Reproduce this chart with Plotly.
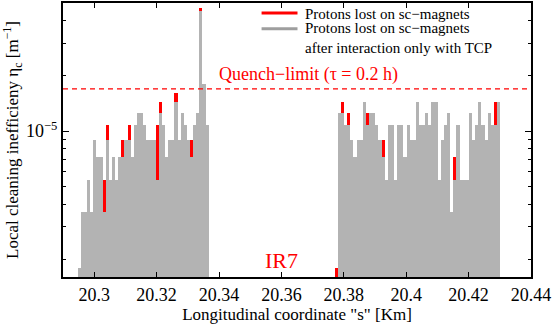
import numpy as np
import plotly.graph_objects as go

# ---------------- data ----------------
BIN_W = 0.001  # km, histogram bin width
# Left cluster (IR7 upstream), bin left edges start
left_start = 20.2947
gray_left = [1, 2, 2, 3, 2, 5, 4, 4, 2, 5, 3, 4, 3, 4, 4, 5, 5, 4, 6, 7, 7,
             6, 5, 5, 5, 3, 7, 6, 4, 5, 5, 8, 5, 7, 6, 5, 4, 6, 7, 25, 10, 6]
red_left = [1, 2, 2, 3, 2, 5, 4, 4, 3, 6, 3, 4, 3, 4, 5, 5, 6, 4, 6, 7, 7,
            6, 5, 5, 5, 6, 8, 6, 4, 5, 5, 9, 5, 7, 6, 5, 5, 6, 7, 26, 10, 6]
# Right cluster (IR7 downstream)
right_start = 20.3771
gray_right = [0, 7, 7, 6, 6, 5, 4, 5, 5, 8, 6, 7, 7, 6, 5, 4, 3, 6, 6, 3, 6,
              6, 4, 6, 5, 5, 8, 6, 6, 7, 6, 8, 8, 3, 5, 6, 7, 2, 3, 6, 3,
              3, 3, 7, 5, 6, 8, 6, 5, 7, 6, 6, 8]
red_right = [1, 7, 8, 6, 7, 5, 4, 5, 5, 8, 7, 7, 7, 6, 5, 5, 3, 6, 6, 3, 6,
             6, 4, 6, 5, 5, 8, 6, 6, 7, 6, 8, 8, 3, 5, 6, 7, 2, 4, 6, 3,
             3, 3, 7, 5, 6, 8, 6, 5, 7, 6, 8, 8]
ETA_UNIT = 1.8e-6  # inefficiency per lost-proton count
quench_limit = 1.7e-5

x_range = [20.29, 20.44]
x_ticks = [20.3, 20.32, 20.34, 20.36, 20.38, 20.4, 20.42, 20.44]
y_range_vals = [1.6e-6, 5.0e-5]
y_major = [1e-5]
y_major_text = ["10<sup>\u22125</sup>"]
y_minor = [2e-6, 3e-6, 4e-6, 5e-6, 6e-6, 7e-6, 8e-6, 9e-6, 2e-5, 3e-5, 4e-5]

legend_names = ["Protons lost on sc\u2212magnets",
                "Protons lost on sc\u2212magnets<br>after interaction only with TCP"]

# ---------------- build ----------------
xl = [left_start + BIN_W * (i + 0.5) for i in range(len(gray_left))]
xr = [right_start + BIN_W * (i + 0.5) for i in range(len(gray_right))]
xs = xl + xr
gray = [v * ETA_UNIT if v > 0 else None for v in gray_left + gray_right]
red = [v * ETA_UNIT if v > 0 else None for v in red_left + red_right]

SERIF = "Liberation Serif, Times New Roman, serif"
RED = "#ff0000"
GRAY = "#b3b3b3"

fig = go.Figure()
fig.add_trace(go.Bar(x=xs, y=red, width=BIN_W, marker=dict(color=RED, line=dict(width=0)),
                     showlegend=False, hoverinfo="skip"))
fig.add_trace(go.Bar(x=xs, y=gray, width=BIN_W,
                     marker=dict(color=GRAY, line=dict(width=0)),
                     showlegend=False, hoverinfo="skip"))
fig.add_trace(go.Scatter(x=x_range, y=[quench_limit, quench_limit], mode="lines",
                         line=dict(color=RED, width=1.3, dash="5px,4px"),
                         showlegend=False, hoverinfo="skip"))

axis_common = dict(showline=True, linecolor="black", linewidth=2, mirror="allticks",
                   ticks="inside", tickcolor="black", showgrid=False, zeroline=False,
                   ticklabeloverflow="allow",
                   tickfont=dict(family=SERIF, size=18, color="black"))

# hand-made legend (line samples + text) in paper coordinates
PX_L, PX_T, PW, PH = 63, 1, 469, 276
def px(xp):
    return (xp - PX_L) / PW
def py(yp):
    return 1 - (yp - PX_T) / PH

shapes = [
    dict(type="line", xref="paper", yref="paper", x0=px(262), x1=px(298), y0=py(11), y1=py(11),
         line=dict(color=RED, width=3)),
    dict(type="line", xref="paper", yref="paper", x0=px(262), x1=px(298), y0=py(27), y1=py(27),
         line=dict(color="#9e9e9e", width=3)),
]
annotations = [
    dict(x=px(304), y=py(12), xref="paper", yref="paper", text=legend_names[0],
         showarrow=False, xanchor="left", yanchor="middle", align="left",
         font=dict(family=SERIF, size=15, color="black")),
    dict(x=px(304), y=py(36.5), xref="paper", yref="paper", text=legend_names[1],
         showarrow=False, xanchor="left", yanchor="middle", align="left",
         font=dict(family=SERIF, size=15, color="black")),
    dict(x=20.3395, y=py(73), xref="x", yref="paper", text="Quench\u2212limit (\u03c4 = 0.2 h)",
         showarrow=False, xanchor="left", yanchor="middle",
         font=dict(family=SERIF, size=18, color=RED)),
    dict(x=20.3599, y=py(260), xref="x", yref="paper", text="IR7",
         showarrow=False, xanchor="center", yanchor="middle",
         font=dict(family=SERIF, size=22, color=RED)),
]

fig.update_layout(
    width=552, height=326,
    margin=dict(l=63, r=20, t=1, b=49),
    paper_bgcolor="white", plot_bgcolor="white",
    barmode="overlay", bargap=0,
    showlegend=False,
    font=dict(family=SERIF, color="black"),
    xaxis=dict(range=x_range, tickvals=x_ticks,
               ticktext=[f"{t:g}" for t in x_ticks],
               ticklen=5, tickwidth=1,
               title=dict(text="Longitudinal coordinate \"s\" [Km]",
                          font=dict(family=SERIF, size=17), standoff=0),
               **axis_common),
    yaxis=dict(type="log", range=[np.log10(v) for v in y_range_vals],
               tickvals=y_major, ticktext=y_major_text, ticklen=6, tickwidth=1,
               minor=dict(tickvals=y_minor, ticks="inside", ticklen=3, tickcolor="black",
                          tickwidth=1, showgrid=False),
               title=dict(text="Local cleaning inefficieny \u03b7<sub>c</sub> [m<sup>\u22121</sup>]",
                          font=dict(family=SERIF, size=17), standoff=4),
               **axis_common),
    shapes=shapes,
    annotations=annotations,
)

fig.write_html("out.html")
